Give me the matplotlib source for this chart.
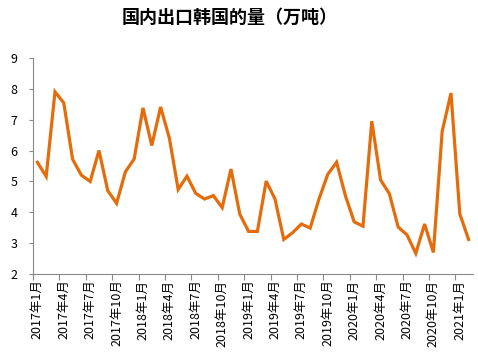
import matplotlib
matplotlib.use("Agg")
import matplotlib.pyplot as plt
import numpy as np

plt.rcParams['font.family'] = ['Noto Sans CJK SC', 'DejaVu Sans']

months = []
for y in range(2017, 2022):
    for m in range(1, 13):
        months.append(f"{y}年{m}月")
months = months[:50]  # 2017-01 .. 2021-02

values = [5.62, 5.16, 7.90, 7.54, 5.72, 5.20, 5.00, 6.00, 4.70, 4.29,
          5.31, 5.73, 7.38, 6.16, 7.41, 6.40, 4.74, 5.17, 4.61, 4.43,
          4.54, 4.15, 5.40, 3.94, 3.38, 3.38, 5.01, 4.43, 3.12, 3.34,
          3.62, 3.49, 4.43, 5.23, 5.62, 4.54, 3.69, 3.55, 6.95, 5.05,
          4.60, 3.52, 3.27, 2.67, 3.62, 2.70, 6.62, 7.86, 3.95, 3.12]

title = "国内出口韩国的量（万吨）"

fig = plt.figure(figsize=(4.78, 3.55), dpi=100)
ax = fig.add_axes([0.069, 0.228, 0.9205, 0.609])

x = np.arange(len(values))
ax.plot(x, values, color='#E46C0A', lw=2.3, solid_joinstyle='miter')

ax.set_xlim(-0.5, len(values) - 0.5)
ax.set_ylim(2, 9)
ax.set_yticks(range(2, 10))
ax.tick_params(axis='y', labelsize=9, length=3, color='#888888', pad=8)

ax.set_xticks(np.arange(-0.5, len(values), 3))
ax.set_xticklabels([])
ax.tick_params(axis='x', which='major', length=4, color='#888888')
ax.set_xticks(x[::3], minor=True)
ax.set_xticklabels([months[i] for i in x[::3]], minor=True, rotation=90, fontsize=9)
ax.tick_params(axis='x', which='minor', length=0, pad=4)

for s in ['top', 'right']:
    ax.spines[s].set_visible(False)
for s in ['left', 'bottom']:
    ax.spines[s].set_color('#888888')

fig.text(0.48, 0.95, title, ha='center', va='center', fontsize=13, fontweight='bold')

fig.savefig('out.png', dpi=100)
